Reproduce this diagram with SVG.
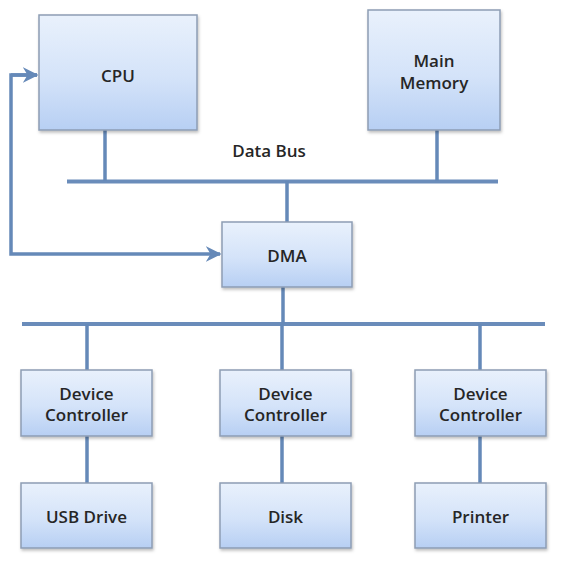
<svg xmlns="http://www.w3.org/2000/svg" width="567" height="562" viewBox="0 0 567 562">
  <defs>
    <linearGradient id="boxFill" x1="0" y1="0" x2="0" y2="1">
      <stop offset="0" stop-color="#e9f1fc"/>
      <stop offset="0.55" stop-color="#d4e3f9"/>
      <stop offset="1" stop-color="#b7cff3"/>
    </linearGradient>
    <filter id="shadow" x="-10%" y="-10%" width="125%" height="130%">
      <feDropShadow dx="1" dy="2" stdDeviation="1.5" flood-color="#000" flood-opacity="0.25"/>
    </filter>
    <marker id="arrow" viewBox="0 0 10 10" refX="9" refY="5" markerWidth="4.5" markerHeight="4.5" markerUnits="strokeWidth" orient="auto">
      <path d="M0,0 L10,5 L0,10 L3,5 Z" fill="#6589b8"/>
    </marker>
  </defs>
  <style>
    .box { fill: url(#boxFill); stroke: #8d9db4; stroke-width: 1.5; filter: url(#shadow); }
    .lbl { font-family: "Open Sans", "Liberation Sans", sans-serif; font-weight: 600; font-size: 17px; fill: #262626; text-anchor: middle; }
    .wire { stroke: #6589b8; stroke-width: 3.5; fill: none; stroke-linecap: butt; }
    .bus { stroke: #6a8cba; stroke-width: 4; fill: none; }
  </style>

  <rect width="567" height="562" fill="#ffffff"/>

  <!-- buses, links and DMA control arrows -->
  <g id="connectors">
    <line class="bus" x1="67" y1="181.5" x2="498" y2="181.5"/>
    <line class="bus" x1="22" y1="324" x2="545" y2="324"/>
    <line class="wire" x1="105" y1="130" x2="105" y2="181"/>
    <line class="wire" x1="437" y1="130" x2="437" y2="181"/>
    <line class="wire" x1="287" y1="181" x2="287" y2="222"/>
    <line class="wire" x1="283" y1="287" x2="283" y2="324"/>
    <line class="wire" x1="87" y1="324" x2="87" y2="370"/>
    <line class="wire" x1="282" y1="324" x2="282" y2="370"/>
    <line class="wire" x1="480" y1="324" x2="480" y2="370"/>
    <line class="wire" x1="87" y1="436" x2="87" y2="483"/>
    <line class="wire" x1="282" y1="436" x2="282" y2="483"/>
    <line class="wire" x1="480" y1="436" x2="480" y2="483"/>
    <polyline class="wire" points="37,75 11,75 11,254 220,254" marker-end="url(#arrow)"/>
    <line class="wire" x1="11" y1="75" x2="37" y2="75" marker-end="url(#arrow)"/>
    <text class="lbl" x="269" y="157">Data Bus</text>
  </g>

  <g id="cpu">
    <rect class="box" x="39" y="15" width="158" height="115"/>
    <text class="lbl" x="118" y="82">CPU</text>
  </g>

  <g id="main-memory">
    <rect class="box" x="368" y="10" width="132" height="120"/>
    <text class="lbl" x="434" y="67">Main</text>
    <text class="lbl" x="434" y="89">Memory</text>
  </g>

  <g id="dma">
    <rect class="box" x="222" y="222" width="130" height="65"/>
    <text class="lbl" x="287" y="262">DMA</text>
  </g>

  <g id="controller-usb">
    <rect class="box" x="21" y="370" width="131" height="66"/>
    <text class="lbl" x="86.5" y="400">Device</text>
    <text class="lbl" x="86.5" y="421">Controller</text>
  </g>

  <g id="controller-disk">
    <rect class="box" x="220" y="370" width="131" height="66"/>
    <text class="lbl" x="285.5" y="400">Device</text>
    <text class="lbl" x="285.5" y="421">Controller</text>
  </g>

  <g id="controller-printer">
    <rect class="box" x="415" y="370" width="131" height="66"/>
    <text class="lbl" x="480.5" y="400">Device</text>
    <text class="lbl" x="480.5" y="421">Controller</text>
  </g>

  <g id="usb-drive">
    <rect class="box" x="21" y="483" width="131" height="65"/>
    <text class="lbl" x="86.5" y="523">USB Drive</text>
  </g>

  <g id="disk">
    <rect class="box" x="220" y="483" width="131" height="65"/>
    <text class="lbl" x="285.5" y="523">Disk</text>
  </g>

  <g id="printer">
    <rect class="box" x="415" y="483" width="131" height="65"/>
    <text class="lbl" x="480.5" y="523">Printer</text>
  </g>
</svg>
